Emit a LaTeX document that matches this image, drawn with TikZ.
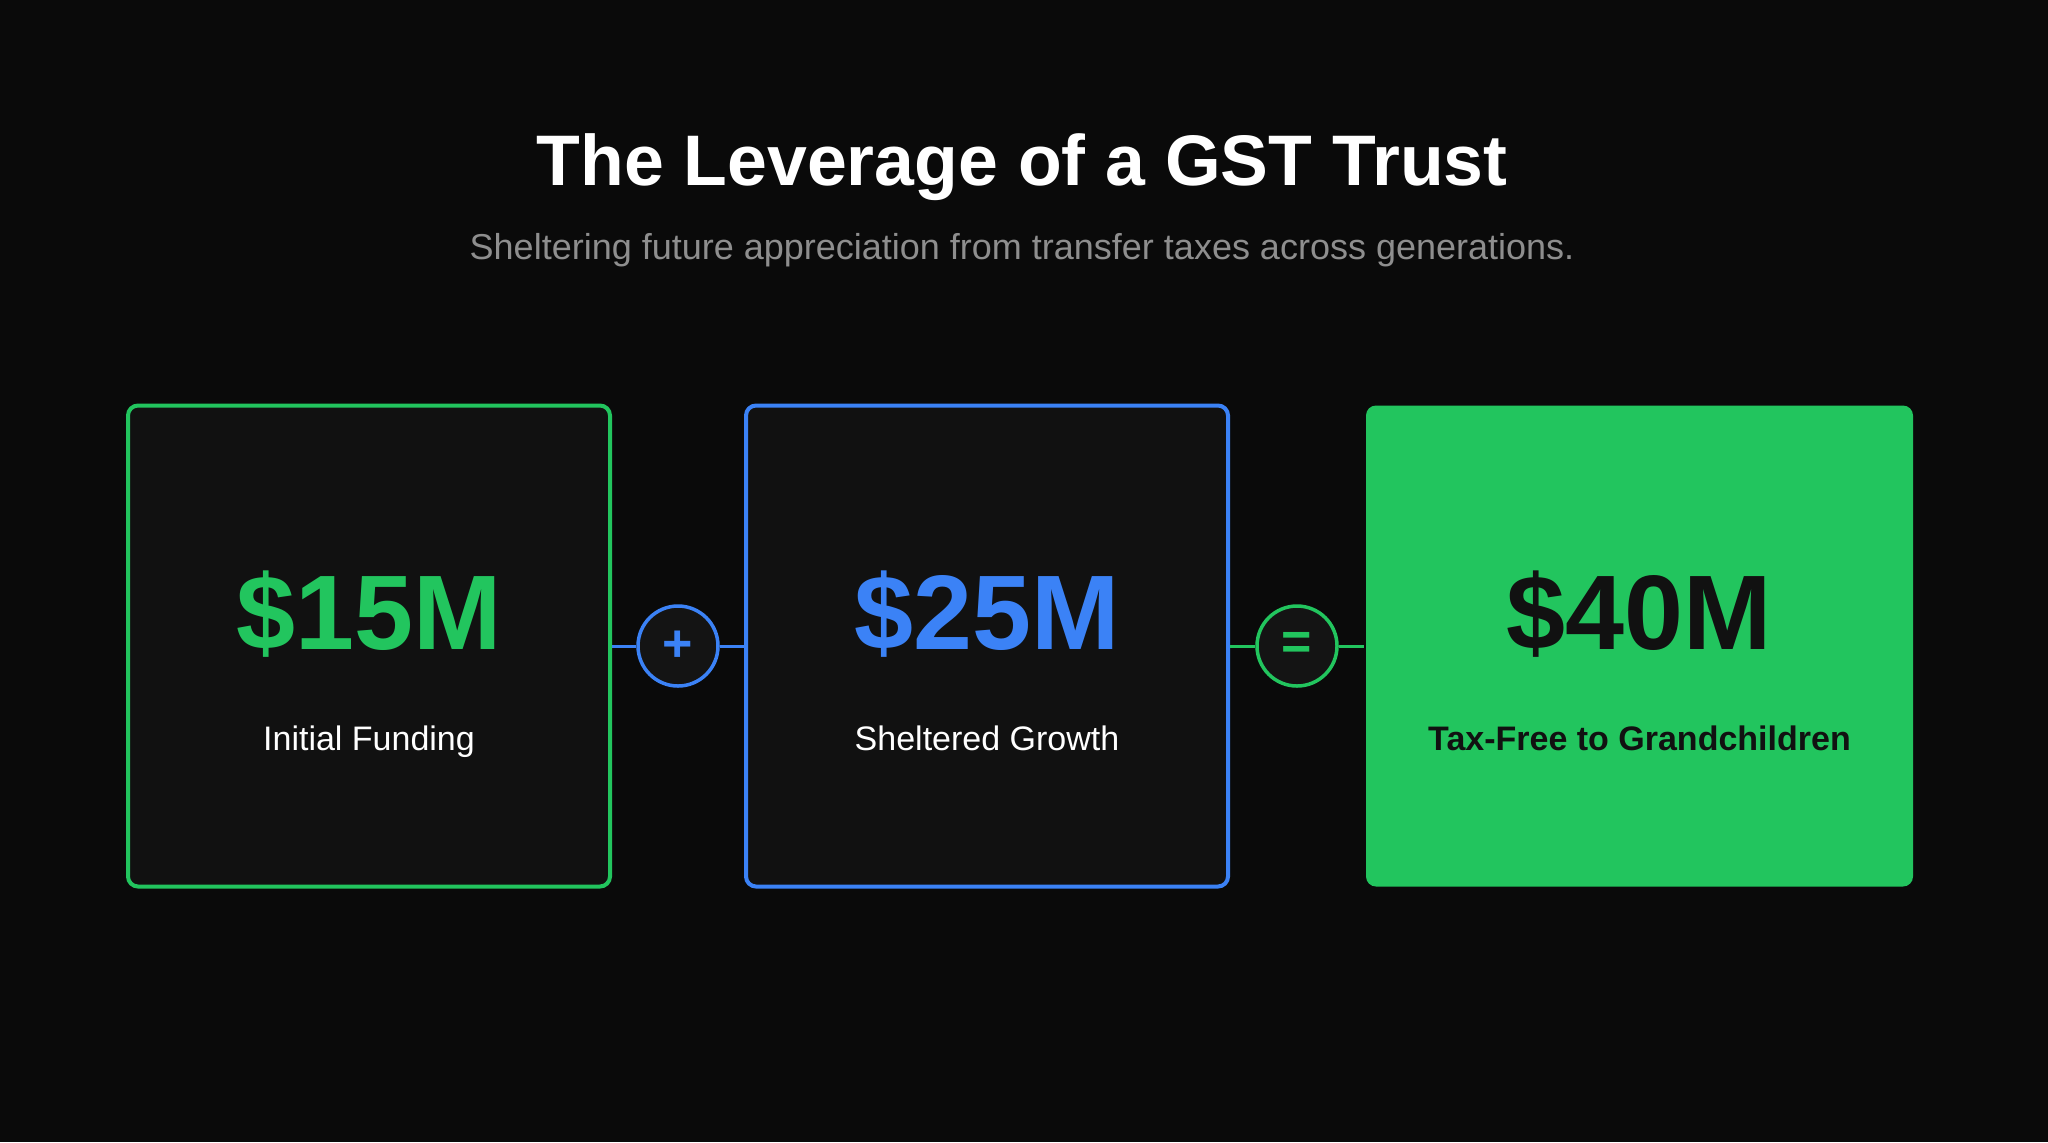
\documentclass[tikz,border=0pt]{standalone}
\usepackage{fontspec}
\setmainfont{Liberation Sans}
\usetikzlibrary{positioning,calc}
\definecolor{bgdark}{HTML}{0A0A0A}
\definecolor{cardbg}{HTML}{111111}
\definecolor{opbg}{HTML}{141414}
\definecolor{grn}{HTML}{22C55E}
\definecolor{blu}{HTML}{3B82F6}
\definecolor{subgray}{HTML}{8E8E8E}
\definecolor{ink}{HTML}{111111}

\begin{document}
\begin{tikzpicture}[x=0.5pt,y=-0.5pt,
  card/.style={draw,line width=2pt,rounded corners=5pt,fill=cardbg,
    minimum width=241pt,minimum height=240.5pt,inner sep=0pt},
  amount/.style={anchor=base,font=\fontsize{53}{60}\selectfont\bfseries},
  caption/.style={anchor=base,font=\fontsize{17}{20}\selectfont},
  opcircle/.style={circle,draw,line width=1.75pt,fill=opbg,minimum size=40pt,
    inner sep=0pt,font=\fontsize{26}{26}\selectfont\bfseries},
  link/.style={line width=1.5pt}]

\fill[bgdark] (0,0) rectangle (2048,1142);
\useasboundingbox (0,0) rectangle (2048,1142);

% heading
\node[anchor=base,text=white,font=\fontsize{35.8}{44}\selectfont\bfseries] (title) at (1022,185) {The Leverage of a GST Trust};
\node[anchor=base,text=subgray,font=\fontsize{18}{22}\selectfont] (subtitle) at (1022,259) {Sheltering future appreciation from transfer taxes across generations.};

% the three cards
\node[card,draw=grn] (fund) at (369,646) {};
\node[card,draw=blu] (growth) at (987,646) {};
\node[card,draw=none,fill=grn,minimum width=273.5pt] (result) at (1639.5,646) {};

\node[amount,text=grn] (fundamt) at ($(fund.center)+(0,3)$) {\$15M};
\node[caption,text=white] (fundlbl) at ($(fund.center)+(0,104)$) {Initial Funding};

\node[amount,text=blu] (growthamt) at ($(growth.center)+(0,3)$) {\$25M};
\node[caption,text=white] (growthlbl) at ($(growth.center)+(0,104)$) {Sheltered Growth};

\node[amount,text=ink] (resultamt) at ($(result.center)+(0,3)$) {\$40M};
\node[caption,text=ink,font=\fontsize{17}{20}\selectfont\bfseries] (resultlbl) at ($(result.center)+(0,104)$) {Tax-Free to Grandchildren};

% operators
\node[opcircle,draw=blu,text=blu] (plus) at (678,646) {+};
\node[opcircle,draw=grn,text=grn] (equals) at (1297,646) {=};

\draw[link,blu] (fund.east) -- (plus.west);
\draw[link,blu] (plus.east) -- (growth.west);
\draw[link,grn] (growth.east) -- (equals.west);
\draw[link,grn] (equals.east) -- (result.west);
\end{tikzpicture}
\end{document}
